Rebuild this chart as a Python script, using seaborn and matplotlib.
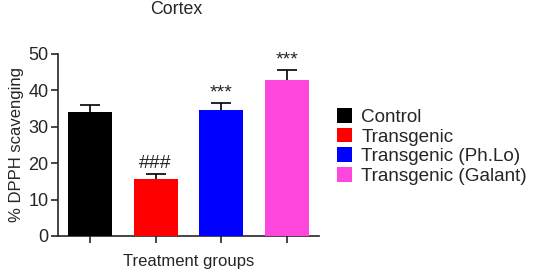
import matplotlib
matplotlib.use("Agg")
import matplotlib.pyplot as plt
import numpy as np
import pandas as pd
import seaborn as sns

GROUPS = ["Control", "Transgenic", "Transgenic (Ph.Lo)", "Transgenic (Galant)"]
MEANS = [34.1, 15.6, 34.7, 42.9]
SEMS = [1.9, 1.4, 1.7, 2.6]
MARKS = ["", "###", "***", "***"]
COLORS = ["#000000", "#FF0000", "#0000FF", "#FF47DD"]

sns.set_style("ticks")
plt.rcParams["font.family"] = ["Liberation Sans", "DejaVu Sans"]

df = pd.DataFrame({"group": GROUPS, "mean": MEANS, "sem": SEMS})

fig = plt.figure(figsize=(5.33, 2.69), dpi=100)
ax = fig.add_axes([0.1088, 0.1227, 0.4897, 0.6766])

sns.barplot(data=df, x="group", y="mean", hue="group", palette=COLORS,
            width=0.67, saturation=1, linewidth=0, dodge=False, legend=True, ax=ax)
for p in ax.patches:
    p.set_zorder(3)

# upper error only; drop the lower caps
x = np.arange(len(GROUPS))
eb = ax.errorbar(x, df["mean"], yerr=[np.zeros(len(GROUPS)), df["sem"]], fmt="none",
                 ecolor="black", elinewidth=1.2, capsize=7.5, capthick=1.2, zorder=1)
eb[1][0].remove()

for xi, m, s, mark in zip(x, MEANS, SEMS, MARKS):
    if mark:
        ax.text(xi, m + s + 0.5, mark, ha="center", va="bottom", fontsize=14)

ax.set_ylim(0, 50)
ax.set_xlim(-0.49, 3.49)
ax.set_yticks([0, 10, 20, 30, 40, 50])
ax.tick_params(axis="y", labelsize=13, length=5, width=1.2, pad=2)
ax.tick_params(axis="x", length=5, width=1.2, labelbottom=False)
ax.set_ylabel("% DPPH scavenging", fontsize=12, labelpad=3)
ax.set_xlabel("Treatment groups", fontsize=12, labelpad=8)
ax.set_title("Cortex", fontsize=12.8, pad=29, x=0.455)
for sp in ["left", "bottom"]:
    ax.spines[sp].set_linewidth(1.2)
sns.despine(ax=ax)

handles, labels = ax.get_legend_handles_labels()
ax.legend(handles, labels, loc="upper left", bbox_to_anchor=(0.632, 0.598),
          bbox_transform=fig.transFigure, frameon=False, fontsize=13.6,
          handlelength=0.8, handleheight=0.8, handletextpad=0.5,
          labelspacing=0.1, borderpad=0, borderaxespad=0)

fig.savefig("out.png", dpi=100)
